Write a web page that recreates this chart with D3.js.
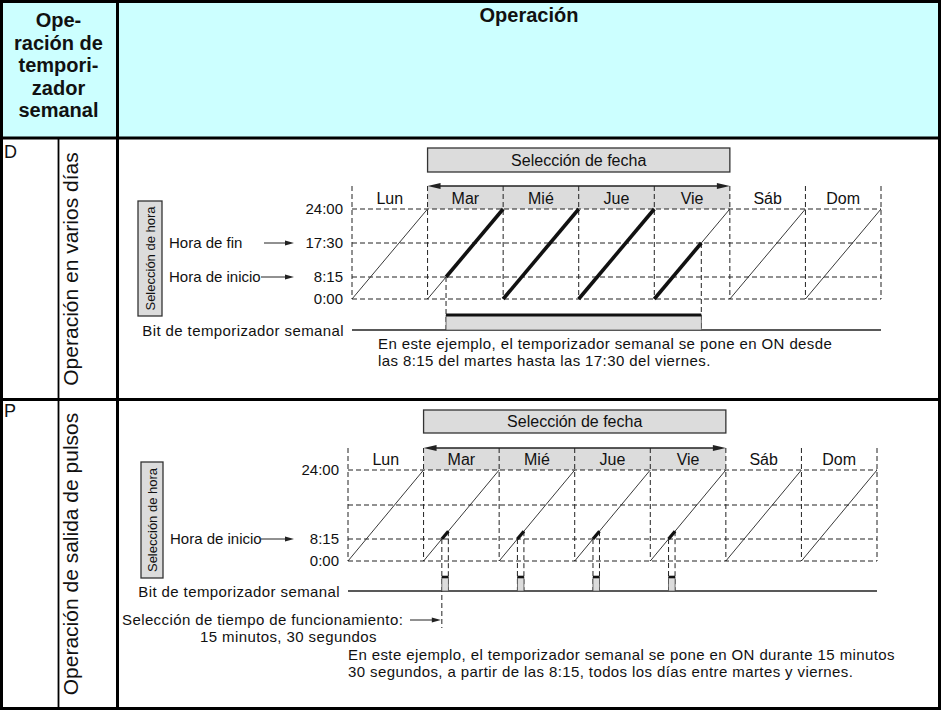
<!DOCTYPE html>
<html><head><meta charset="utf-8">
<script src="https://cdn.jsdelivr.net/npm/d3@7"></script>
<style>
body{margin:0;background:#fff}
svg{display:block}
text{font-family:"Liberation Sans",Arial,Helvetica,sans-serif;fill:#111}
text.body{font-size:15px;letter-spacing:0.4px}
</style>
</head><body>
<svg id="c" width="941" height="710"></svg>
<script>
// ---------- data ----------
const days = ["Lun","Mar","Mié","Jue","Vie","Sáb","Dom"];
const timeValues = [0, 8.25, 17.5, 24];
const timeLabelsD = ["0:00","8:15","17:30","24:00"];
const timeLabelsP = ["0:00","8:15","","24:00"];
const dateSelStart = 1, dateSelEnd = 5;          // Mar .. Vie
const onStart = {day:1, hour:8.25};               // martes 8:15
const onEnd   = {day:4, hour:17.5};               // viernes 17:30
const pulseDays = [1,2,3,4];                      // martes..viernes
const pulseHour = 8.25;
const pulseMinutes = 15.5;
const headerLeftLines = ["Ope-","ración de","tempori-","zador","semanal"];
const headerRight = "Operación";
const rowCodes = ["D","P"];
const rowNames = ["Operación en varios días","Operación de salida de pulsos"];
const descD = ["En este ejemplo, el temporizador semanal se pone en ON desde",
               "las 8:15 del martes hasta las 17:30 del viernes."];
const descP = ["En este ejemplo, el temporizador semanal se pone en ON durante 15 minutos",
               "30 segundos, a partir de las 8:15, todos los días entre martes y viernes."];
const dateSelLabel = "Selección de fecha";
const timeSelLabel = "Selección de hora";
const bitLabel = "Bit de temporizador semanal";
const endLabel = "Hora de fin", startLabel = "Hora de inicio";
const runTimeLines = ["Selección de tiempo de funcionamiento:", "15 minutos, 30 segundos"];

// ---------- drawing ----------
const svg = d3.select("#c");
const INK = "#222", GRAY = "#dcdcdc";
const STEP = 17;

// table frame
svg.append("rect").attr("x",0).attr("y",0).attr("width",941).attr("height",138).attr("fill","#ccffff");
const hl = (x1,y1,x2,y2,w)=>svg.append("line").attr("x1",x1).attr("y1",y1).attr("x2",x2).attr("y2",y2)
  .attr("stroke","#000").attr("stroke-width",w);
hl(0,138,941,138,3);
hl(0,399.5,941,399.5,3);
hl(117.5,0,117.5,710,3);
hl(58.5,138,58.5,710,1.8);
svg.append("rect").attr("x",1.5).attr("y",1.5).attr("width",938).attr("height",707)
  .attr("fill","none").attr("stroke","#000").attr("stroke-width",3);

// header text
const hdr = svg.append("text").attr("text-anchor","middle").attr("font-size",20).attr("font-weight","bold");
hdr.selectAll("tspan").data(headerLeftLines).join("tspan")
  .attr("x",58.5).attr("y",(d,i)=>27+i*22.5).text(d=>d);
svg.append("text").attr("x",529).attr("y",22).attr("text-anchor","middle")
  .attr("font-size",20).attr("font-weight","bold").text(headerRight);

// row labels
const rowMid = [269, 554];
const rowTop = [158, 417];
rowCodes.forEach((c,i)=>{
  svg.append("text").attr("x",4).attr("y",rowTop[i]).attr("font-size",18).text(c);
  svg.append("text").attr("transform",`translate(78,${rowMid[i]}) rotate(-90)`)
    .attr("text-anchor","middle").attr("font-size",21).text(rowNames[i]);
});

function arrowHead(g, x, y, dir, len, hw){
  g.append("path").attr("d",`M${x},${y}L${x-dir*len},${y-hw}L${x-dir*len},${y+hw}Z`).attr("fill",INK);
}
function hArrow(g, xa, xb, y){
  g.append("line").attr("x1",xa).attr("y1",y).attr("x2",xb-6).attr("y2",y).attr("stroke",INK).attr("stroke-width",1);
  arrowHead(g, xb, y, 1, 9, 2.5);
}
function bodyText(g, x, y, s, anchor){
  return g.append("text").attr("class","body").attr("x",x).attr("y",y)
    .attr("text-anchor",anchor||"start").text(s);
}

function panel(L){
  const g = svg.append("g");
  const x = d3.scaleLinear().domain([0, days.length]).range([L.x0, L.x1]);
  const y = d3.scaleLinear().domain(timeValues).range(L.yr);
  const dayW = x(1)-x(0), yTop = y(24), yBot = y(0);
  const pt = (d,h)=>{ const t=(yBot-y(h))/(yBot-yTop); return [x(d)+t*dayW, y(h)]; };
  const dash = "5,3";

  // date selection box
  g.append("rect").attr("x",x(dateSelStart)).attr("y",L.boxTop)
    .attr("width",x(dateSelEnd)-x(dateSelStart)).attr("height",L.boxBot-L.boxTop)
    .attr("fill",GRAY).attr("stroke","#333").attr("stroke-width",1.3);
  g.append("text").attr("x",(x(dateSelStart)+x(dateSelEnd))/2).attr("y",(L.boxTop+L.boxBot)/2)
    .attr("dy","0.36em").attr("text-anchor","middle").attr("font-size",16).text(dateSelLabel);

  // gray day-label band
  g.append("rect").attr("x",x(dateSelStart)).attr("y",L.arrowY)
    .attr("width",x(dateSelEnd)-x(dateSelStart)).attr("height",yTop-L.arrowY).attr("fill",GRAY);

  // day labels
  g.selectAll("text.day").data(days).join("text").attr("class","day")
    .attr("x",(d,i)=>x(i)+dayW/2).attr("y",(L.arrowY+yTop)/2).attr("dy","0.38em")
    .attr("text-anchor","middle").attr("font-size",16).text(d=>d);

  // dashed grid
  g.selectAll("line.v").data(d3.range(days.length+1)).join("line").attr("class","v")
    .attr("x1",d=>x(d)).attr("x2",d=>x(d)).attr("y1",L.arrowY).attr("y2",yBot)
    .attr("stroke",INK).attr("stroke-width",1).attr("stroke-dasharray",dash);
  g.selectAll("line.h").data(timeValues).join("line").attr("class","h")
    .attr("x1",x(0)).attr("x2",x(days.length)).attr("y1",d=>y(d)).attr("y2",d=>y(d))
    .attr("stroke",INK).attr("stroke-width",1).attr("stroke-dasharray",dash);

  // thin diagonals
  g.selectAll("line.diag").data(days).join("line").attr("class","diag")
    .attr("x1",(d,i)=>x(i)).attr("y1",yBot).attr("x2",(d,i)=>x(i+1)).attr("y2",yTop)
    .attr("stroke",INK).attr("stroke-width",0.9);

  // tick labels
  g.selectAll("text.tick").data(timeValues).join("text").attr("class","tick")
    .attr("x",x(0)-9).attr("y",d=>y(d)).attr("dy","0.36em").attr("text-anchor","end")
    .attr("font-size",15).text((d,i)=>L.tickLabels[i]);

  // date selection double arrow
  g.append("line").attr("x1",x(dateSelStart)+8).attr("x2",x(dateSelEnd)-8)
    .attr("y1",L.arrowY).attr("y2",L.arrowY).attr("stroke",INK).attr("stroke-width",1.6);
  arrowHead(g, x(dateSelStart), L.arrowY, -1, 13, 3);
  arrowHead(g, x(dateSelEnd), L.arrowY, 1, 13, 3);

  // time selection box
  g.append("rect").attr("x",L.tsX).attr("y",yTop-8).attr("width",L.tsW).attr("height",yBot-yTop+25)
    .attr("fill",GRAY).attr("stroke","#333").attr("stroke-width",1.3);
  g.append("text").attr("transform",`translate(${L.tsX+L.tsW/2},${(yTop-8+yBot+17)/2}) rotate(-90)`)
    .attr("text-anchor","middle").attr("dy","0.36em").attr("font-size",13).text(timeSelLabel);

  // bit line + label
  g.append("line").attr("x1",x(0)).attr("x2",x(days.length)).attr("y1",L.bitY).attr("y2",L.bitY)
    .attr("stroke",INK).attr("stroke-width",1.5);
  bodyText(g, x(0)-8, L.bitY+5.5, bitLabel, "end");

  // description
  L.desc.forEach((s,i)=>bodyText(g, L.descX, L.descY+i*STEP, s));

  return {g,x,y,pt,dayW,yTop,yBot,dash};
}

// ---- panel D ----
(function(){
  const L = {x0:352,x1:881,yr:[299,277,243,209],boxTop:148,boxBot:172,arrowY:186,bitY:330,
    tickLabels:timeLabelsD,tsX:138,tsW:24,desc:descD,descX:378,descY:349};
  const P = panel(L), g = P.g;
  g.append("text").attr("x",169).attr("y",P.y(17.5)).attr("dy","0.36em").attr("font-size",15).text(endLabel);
  hArrow(g, 264, 294, P.y(17.5));
  g.append("text").attr("x",169).attr("y",P.y(8.25)).attr("dy","0.36em").attr("font-size",15).text(startLabel);
  hArrow(g, 261, 294, P.y(8.25));

  const s = P.pt(onStart.day,onStart.hour), e = P.pt(onEnd.day,onEnd.hour);
  [s,e].forEach(p=>g.append("line").attr("x1",p[0]).attr("x2",p[0]).attr("y1",p[1]).attr("y2",L.bitY)
    .attr("stroke",INK).attr("stroke-width",1).attr("stroke-dasharray",P.dash));
  const segs = d3.range(onStart.day,onEnd.day+1).map(d=>[
    P.pt(d, d===onStart.day?onStart.hour:0), P.pt(d, d===onEnd.day?onEnd.hour:24)]);
  g.selectAll("line.on").data(segs).join("line").attr("class","on")
    .attr("x1",d=>d[0][0]).attr("y1",d=>d[0][1]).attr("x2",d=>d[1][0]).attr("y2",d=>d[1][1])
    .attr("stroke","#111").attr("stroke-width",3.6);
  const barTop = 315;
  g.append("rect").attr("x",s[0]).attr("y",barTop).attr("width",e[0]-s[0]).attr("height",L.bitY-barTop)
    .attr("fill",GRAY).attr("stroke","#555").attr("stroke-width",0.8);
  g.append("line").attr("x1",s[0]).attr("x2",e[0]).attr("y1",barTop).attr("y2",barTop)
    .attr("stroke","#111").attr("stroke-width",3);
})();

// ---- panel P ----
(function(){
  const L = {x0:348,x1:877,yr:[561,539,505,470],boxTop:410,boxBot:433,arrowY:448,bitY:591,
    tickLabels:timeLabelsP,tsX:141,tsW:22,desc:descP,descX:348,descY:660};
  const P = panel(L), g = P.g;
  g.append("text").attr("x",170).attr("y",P.y(8.25)).attr("dy","0.36em").attr("font-size",15).text(startLabel);
  hArrow(g, 261, 294, P.y(8.25));

  const pulseTop = 577, minW = 6.5;
  const slope = (P.yBot-P.yTop)/P.dayW;
  pulseDays.forEach((d,k)=>{
    const s = P.pt(d,pulseHour);
    const eReal = P.pt(d,pulseHour+pulseMinutes/60);
    const ex = Math.max(eReal[0], s[0]+minW);
    const e = [ex, P.yBot-(ex-P.x(d))*slope];
    g.append("line").attr("x1",s[0]).attr("x2",s[0]).attr("y1",s[1]).attr("y2",k===0?628:L.bitY)
      .attr("stroke",INK).attr("stroke-width",1).attr("stroke-dasharray",P.dash);
    g.append("line").attr("x1",e[0]).attr("x2",e[0]).attr("y1",e[1]).attr("y2",L.bitY)
      .attr("stroke",INK).attr("stroke-width",1).attr("stroke-dasharray",P.dash);
    g.append("line").attr("x1",s[0]).attr("y1",s[1]).attr("x2",e[0]).attr("y2",e[1])
      .attr("stroke","#111").attr("stroke-width",3.2);
    g.append("rect").attr("x",s[0]).attr("y",pulseTop).attr("width",e[0]-s[0]).attr("height",L.bitY-pulseTop)
      .attr("fill",GRAY).attr("stroke","#555").attr("stroke-width",0.8);
    g.append("line").attr("x1",s[0]).attr("x2",e[0]).attr("y1",pulseTop).attr("y2",pulseTop)
      .attr("stroke","#111").attr("stroke-width",2.6);
    if(k===0){
      const ty = 620;
      bodyText(g, 122, ty+4.5, runTimeLines[0]);
      bodyText(g, 200, ty+4.5+STEP, runTimeLines[1]);
      hArrow(g, 410, s[0]-1, ty);
    }
  });
})();
</script>
</body></html>
